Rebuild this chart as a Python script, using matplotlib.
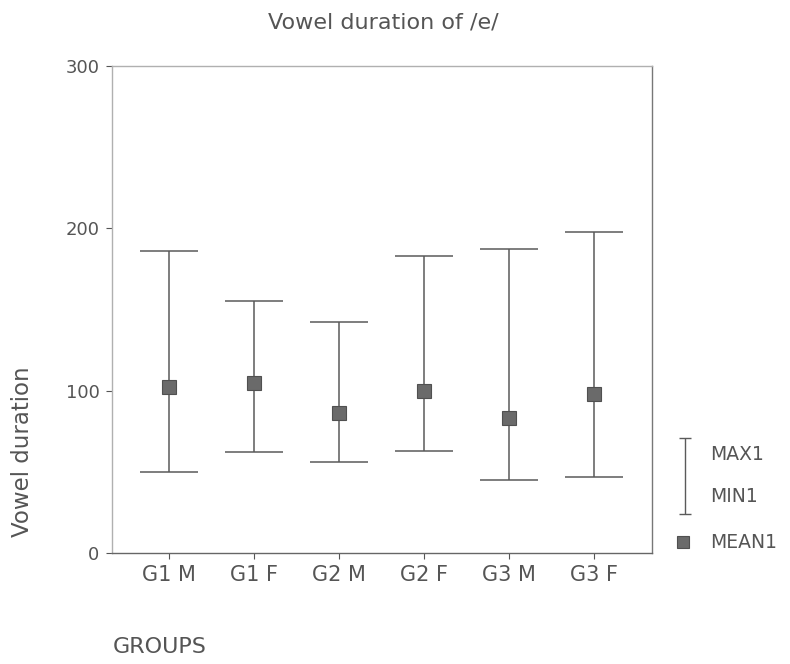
import matplotlib.pyplot as plt

plt.rcParams['font.family'] = ['DejaVu Sans']

groups = ["G1 M", "G1 F", "G2 M", "G2 F", "G3 M", "G3 F"]
max1 = [186, 155, 142, 183, 187, 198]
min1 = [50, 62, 56, 63, 45, 47]
mean1 = [102, 105, 86, 100, 83, 98]

line_col = "#5a5a5a"
mark_col = "#6a6a6a"
text_col = "#555555"

fig = plt.figure(figsize=(7.9, 6.64), dpi=100)
ax = fig.add_axes([0.1418, 0.1672, 0.6835, 0.7334])

x = list(range(len(groups)))
mid = [(a + b) / 2 for a, b in zip(max1, min1)]
half = [(a - b) / 2 for a, b in zip(max1, min1)]
ax.errorbar(x, mid, yerr=half, fmt="none", ecolor=line_col, elinewidth=1.1,
            capsize=21, capthick=1.1)
ax.plot(x, mean1, "s", color=mark_col, markersize=10.5,
        markeredgecolor="#505050", markeredgewidth=0.8)

ax.set_xlim(-0.67, 5.68)
ax.set_ylim(0, 300)
ax.set_yticks([0, 100, 200, 300])
ax.set_xticks(x)
ax.set_xticklabels(groups)
ax.tick_params(colors=text_col, length=4, width=0.8, pad=5)
ax.tick_params(axis="x", labelsize=15)
ax.tick_params(axis="y", labelsize=13)
for s in ax.spines.values():
    s.set_linewidth(1)
ax.spines["bottom"].set_color("#666666")
ax.spines["right"].set_color("#777777")
ax.spines["top"].set_color("#b0b0b0")
ax.spines["left"].set_color("#b0b0b0")

fig.text(383 / 790, 1 - 22 / 664, "Vowel duration of /e/", fontsize=16,
         color=text_col, ha="center", va="center")
fig.text(0.028, 1 - 452 / 664, "Vowel duration", rotation=90, fontsize=16.5,
         color=text_col, ha="center", va="center")
fig.text(113 / 790, 1 - 647 / 664, "GROUPS", fontsize=16, color=text_col,
         ha="left", va="center")

# legend drawn by hand
lax = fig.add_axes([670 / 790, 1 - 560 / 664, 120 / 790, 130 / 664])
lax.set_xlim(0, 120)
lax.set_ylim(0, 130)
lax.axis("off")
lax.errorbar([15], [84], yerr=[38], fmt="none", ecolor=line_col,
             elinewidth=1, capsize=4, capthick=1)
lax.plot([13], [18], "s", color=mark_col, markersize=8,
         markeredgecolor="#505050", markeredgewidth=0.8)
lax.text(40, 105, "MAX1", fontsize=13.5, color=text_col, va="center")
lax.text(40, 63, "MIN1", fontsize=13.5, color=text_col, va="center")
lax.text(40, 18, "MEAN1", fontsize=13.5, color=text_col, va="center")

fig.savefig("out.png", dpi=100)
